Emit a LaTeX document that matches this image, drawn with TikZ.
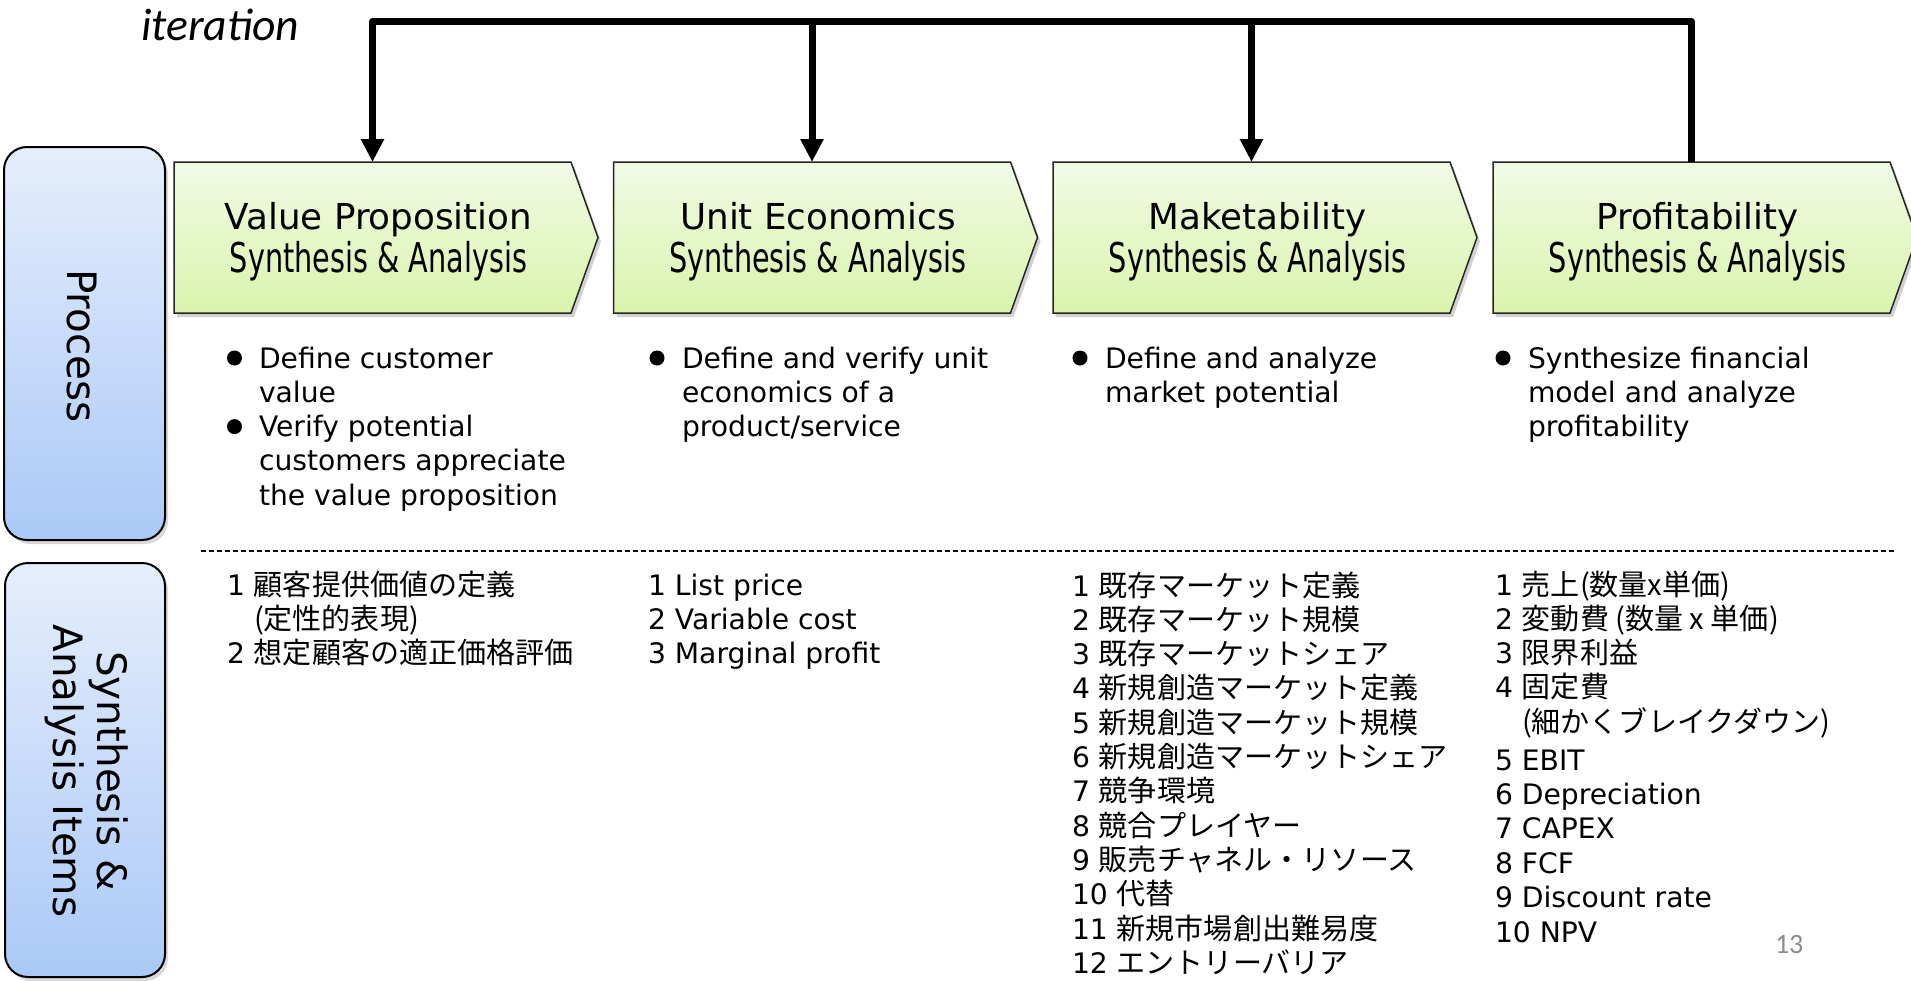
\documentclass[tikz,border=0pt]{standalone}
\usepackage{fontspec}
\setmainfont{DejaVu Sans}
\newfontfamily\cjk[Scale=1.03]{Noto Sans CJK JP}
\newfontfamily\condf[FakeStretch=0.70]{DejaVu Sans}
\newfontfamily\calib{Carlito}
\usetikzlibrary{arrows.meta,shadows}
\definecolor{gtop}{HTML}{F2FAE6}
\definecolor{gbot}{HTML}{D9F4AC}
\definecolor{btop}{HTML}{E5EEFC}
\definecolor{bbot}{HTML}{ABC9F7}
\definecolor{pgray}{HTML}{8C8C8C}
\begin{document}
\begin{tikzpicture}[x=0.5pt,y=-0.5pt,
  every node/.style={inner sep=0pt,outer sep=0pt},
  txt/.style={anchor=base west,font=\fontsize{14.1}{17}\selectfont},
  bul/.style={circle,fill=black,minimum size=7.5pt},
  ttl/.style={anchor=base,font=\fontsize{17.85}{21}\selectfont},
  subttl/.style={anchor=base,font=\condf\fontsize{20.5}{21}\selectfont},
  chevbox/.style={draw=black!85,line width=0.75pt,top color=gtop,bottom color=gbot,line join=miter},
  chevshadow/.style={fill=black,opacity=0.18},
  sidebox/.style={draw=black,line width=1pt,rounded corners=11.5pt,top color=btop,bottom color=bbot,
     drop shadow={shadow xshift=1.5pt,shadow yshift=-2pt,opacity=0.3}},
  sidelabel/.style={rotate=-90,align=center,font=\fontsize{20.25}{22}\selectfont},
  loopline/.style={line width=3.5pt,line join=round},
  arrowend/.style={-{Triangle[width=11pt,length=11.5pt]}},
  iterfont/.style={anchor=base west,font=\calib\itshape\fontsize{22.8}{26}\selectfont},
  pagenum/.style={anchor=base west,text=pgray,font=\calib\fontsize{14}{16}\selectfont}
]
\useasboundingbox (0,0) rectangle (1911,980);

% side boxes
\node[sidebox,minimum width=80.5pt,minimum height=196.5pt] (proc) at (84.5,343.5) {};
\node[sidelabel] (proclab) at (82,346) {Process};
\node[sidebox,minimum width=80pt,minimum height=207pt] (synth) at (85,770) {};
\node[sidelabel] (synthlab) at (87,771) {Synthesis \&\\Analysis Items};

% chevron boxes
\foreach \lx/\nm [count=\i] in {174/Value Proposition,613.5/Unit Economics,1053/Maketability,1493/Profitability}{
  \fill[chevshadow] (\lx+3,166) -- (\lx+400,166) -- (\lx+427,241.5) -- (\lx+400,317) -- (\lx+3,317) -- cycle;
  \draw[chevbox] (\lx,162) -- (\lx+397,162) -- (\lx+424,237.5) -- (\lx+397,313) -- (\lx,313) -- cycle;
  \node[minimum width=198.5pt,minimum height=75.5pt] (bx\i) at (\lx+198.5,237.5) {};
  \node[ttl] (ttl\i) at (\lx+204.5,229) {\nm};
  \node[subttl] (sub\i) at (\lx+204.5,272) {Synthesis \& Analysis};
}

% iteration loop
\node[iterfont] (iter) at (141,40) {iteration};
\coordinate (bar) at (0,21);
\draw[loopline,arrowend] (bx4.north) -- (bx4.north |- bar) -- (bx1.north |- bar) -- (bx1.north);
\draw[loopline,arrowend] (bx2.north |- bar) -- (bx2.north);
\draw[loopline,arrowend] (bx3.north |- bar) -- (bx3.north);

% bullets column 1
\node[bul] (d1a) at (234.5,358) {};
\node[bul] (d1b) at (234.5,426.6) {};
\foreach \itm [count=\i] in {Define customer,value,Verify potential,customers appreciate,the value proposition}
  \node[txt] (p1l\i) at (259,{368+34.3*(\i-1)}) {\itm};
% bullets column 2
\node[bul] (d2a) at (657,358) {};
\foreach \itm [count=\i] in {Define and verify unit,economics of a,product/service}
  \node[txt] (p2l\i) at (682,{368+34.3*(\i-1)}) {\itm};
% bullets column 3
\node[bul] (d3a) at (1080,358) {};
\foreach \itm [count=\i] in {Define and analyze,market potential}
  \node[txt] (p3l\i) at (1105,{368+34.3*(\i-1)}) {\itm};
% bullets column 4
\node[bul] (d4a) at (1503,358) {};
\foreach \itm [count=\i] in {Synthesize financial,model and analyze,profitability}
  \node[txt] (p4l\i) at (1528,{368+34.3*(\i-1)}) {\itm};

% dashed separator
\coordinate (dl) at (201,551);
\coordinate (dr) at (1897,551);
\draw[dash pattern=on 2.5pt off 1.5pt,line width=0.6pt] (dl) -- (dr);

% list column 1
\node[txt] (a1) at (227,595) {1 {\cjk 顧客提供価値の定義}};
\node[txt] (a1b) at (254,629.3) {{\cjk (定性的表現)}};
\node[txt] (a2) at (227,663.6) {2 {\cjk 想定顧客の適正価格評価}};
% list column 2
\foreach \itm [count=\i] in {1 List price,2 Variable cost,3 Marginal profit}
  \node[txt] (u\i) at (648,{595+34.3*(\i-1)}) {\itm};
% list column 3
\foreach \itm [count=\i] in {1 {\cjk 既存マーケット定義},2 {\cjk 既存マーケット規模},3 {\cjk 既存マーケットシェア},
  4 {\cjk 新規創造マーケット定義},5 {\cjk 新規創造マーケット規模},6 {\cjk 新規創造マーケットシェア},
  7 {\cjk 競争環境},8 {\cjk 競合プレイヤー},9 {\cjk 販売チャネル・リソース},10 {\cjk 代替},
  11 {\cjk 新規市場創出難易度},12 {\cjk エントリーバリア}}
  \node[txt] (m\i) at (1072,{596+34.3*(\i-1)}) {\itm};
% list column 4
\foreach \itm [count=\i] in {1 {\cjk 売上(数量x単価)},2 {\cjk 変動費 (数量 x 単価)},3 {\cjk 限界利益},4 {\cjk 固定費}}
  \node[txt] (f\i) at (1495,{595+34.3*(\i-1)}) {\itm};
\node[txt] (f4b) at (1522,732.2) {{\cjk (細かくブレイクダウン)}};
\foreach \itm [count=\i] in {5 EBIT,6 Depreciation,7 CAPEX,8 FCF,9 Discount rate,10 NPV}
  \node[txt] (g\i) at (1495,{770+34.4*(\i-1)}) {\itm};

% page number
\node[pagenum] (pg) at (1775,953) {13};
\end{tikzpicture}
\end{document}
